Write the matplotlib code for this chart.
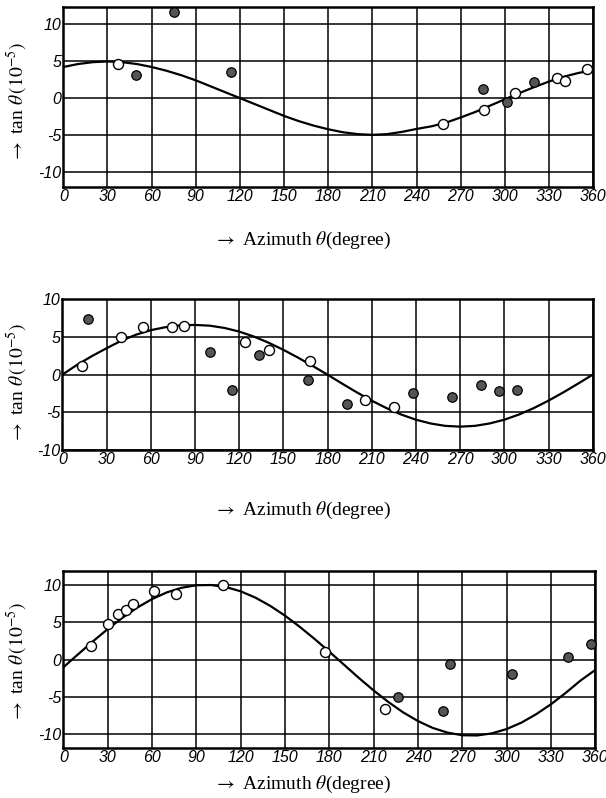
import matplotlib

matplotlib.use("Agg")
import matplotlib.pyplot as plt

plt.rcParams["mathtext.fontset"] = "stix"

# fitted curves, every 10 degrees
curve_deg = [0, 10, 20, 30, 40, 50, 60, 70, 80, 90, 100, 110, 120, 130, 140, 150, 160, 170, 180,
             190, 200, 210, 220, 230, 240, 250, 260, 270, 280, 290, 300, 310, 320, 330, 340, 350, 360]

curve1 = [4.2, 4.6, 4.85, 4.95, 4.85, 4.6, 4.2, 3.7, 3.1, 2.4, 1.6, 0.8, 0.0, -0.8, -1.6, -2.4,
          -3.1, -3.7, -4.2, -4.6, -4.85, -4.95, -4.85, -4.55, -4.15, -3.8, -3.3, -2.6, -1.85,
          -1.0, -0.15, 0.7, 1.5, 2.25, 2.9, 3.4, 3.8]
curve2 = [0.0, 1.3, 2.45, 3.5, 4.5, 5.3, 5.9, 6.3, 6.55, 6.6, 6.5, 6.2, 5.72, 5.06, 4.24, 3.3,
          2.26, 1.15, 0.0, -1.2, -2.36, -3.45, -4.44, -5.29, -5.98, -6.48, -6.8, -6.9, -6.8,
          -6.48, -5.98, -5.29, -4.44, -3.45, -2.36, -1.2, 0.0]
curve3 = [-1.05, 0.7, 2.42, 4.07, 5.59, 6.95, 8.09, 8.99, 9.61, 9.95, 9.98, 9.71, 9.14, 8.29,
          7.19, 5.88, 4.38, 2.76, 1.05, -0.71, -2.47, -4.15, -5.7, -7.09, -8.25, -9.17, -9.8,
          -10.15, -10.18, -9.9, -9.32, -8.46, -7.33, -6.0, -4.47, -2.82, -1.4]

# panel 1 observations
open1_deg = [37.3, 258, 285.5, 306.5, 335.4, 340.7, 355.7]
open1_val = [4.66, -3.5, -1.57, 0.63, 2.78, 2.33, 3.9]
fill1_deg = [49.4, 75.4, 114, 285, 301.3, 319.7]
fill1_val = [3.14, 11.6, 3.59, 1.26, -0.5, 2.24]

# panel 2 observations
open2_deg = [13.6, 39.9, 55, 74.7, 82.9, 123.8, 140.5, 167.8, 205.6, 225]
open2_val = [1.19, 4.96, 6.28, 6.28, 6.5, 4.34, 3.27, 1.86, -3.32, -4.34]
fill2_deg = [17.3, 100.2, 115.4, 133.2, 166.5, 193.2, 238, 264.8, 284.5, 296.3, 308.3]
fill2_val = [7.39, 2.96, -2.08, 2.65, -0.75, -3.94, -2.43, -2.96, -1.37, -2.21, -1.99]

# panel 3 observations
open3_deg = [18.9, 30.4, 36.7, 42.5, 47.5, 61.6, 76.3, 107.8, 177, 217.9]
open3_val = [1.8, 4.77, 6.13, 6.62, 7.48, 9.23, 8.78, 10.0, 0.99, -6.62]
fill3_deg = [226.3, 261.7, 257.2, 303.6, 341.6, 357.4]
fill3_val = [-5.0, -0.63, -6.94, -1.89, 0.36, 2.12]

xticks = list(range(0, 361, 30))
yticks = [-10, -5, 0, 5, 10]

TICK_FONT = dict(family=["Liberation Sans", "DejaVu Sans"], style="italic", size=11.5)
LABEL_FONT = dict(family=["Liberation Serif", "DejaVu Serif"], size=14)
XLABEL = r"$\rightarrow$ Azimuth $\theta$(degree)"
YLABEL = r"$\rightarrow$ tan $\theta\,(10^{-5})$"

W, H = 606, 798
fig = plt.figure(figsize=(W / 100, H / 100), dpi=100)


def px_axes(left, top, right, bottom):
    return fig.add_axes([left / W, 1 - bottom / H, (right - left) / W, (bottom - top) / H])


panels = [
    (px_axes(63.3, 7.3, 593.3, 186.7), (-11.94, 12.25), curve1,
     open1_deg, open1_val, fill1_deg, fill1_val, 240, 102),
    (px_axes(62.3, 299.3, 592.7, 450.0), (-10, 10), curve2,
     open2_deg, open2_val, fill2_deg, fill2_val, 510, 383),
    (px_axes(63.3, 570.7, 595.3, 748.3), (-11.9, 11.9), curve3,
     open3_deg, open3_val, fill3_deg, fill3_val, 784, 662),
]

for ax, ylim, curve, od, ov, fd, fv, xlab_y, ylab_y in panels:
    ax.plot(curve_deg, curve, color="black", linewidth=1.6, zorder=3)
    ax.plot(fd, fv, "o", markersize=6.8, markerfacecolor="#555555",
            markeredgecolor="black", markeredgewidth=0.9, zorder=4, clip_on=False)
    ax.plot(od, ov, "o", markersize=7.2, markerfacecolor="white",
            markeredgecolor="black", markeredgewidth=1.0, zorder=4, clip_on=False)
    ax.set_xlim(0, 360)
    ax.set_ylim(*ylim)
    ax.set_xticks(xticks)
    ax.set_yticks(yticks)
    ax.set_xticklabels([str(t) for t in xticks], **TICK_FONT)
    ax.set_yticklabels([str(t) for t in yticks], **TICK_FONT)
    ax.tick_params(length=0, pad=1.5)
    ax.grid(True, color="black", linewidth=1.1)
    ax.set_axisbelow(True)
    for sp in ax.spines.values():
        sp.set_linewidth(1.8)
    fig.text(303 / W, 1 - xlab_y / H, XLABEL, ha="center", va="center", **LABEL_FONT)
    fig.text(17 / W, 1 - ylab_y / H, YLABEL, ha="center", va="center",
             rotation=90, **LABEL_FONT)

fig.savefig("out.png", dpi=100)
